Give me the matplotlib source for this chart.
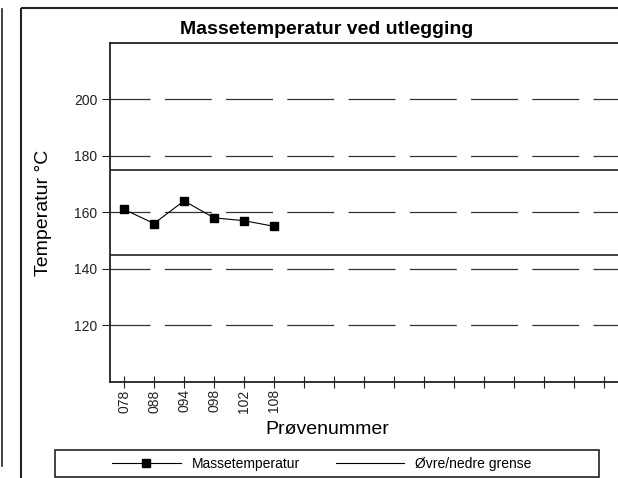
import matplotlib
matplotlib.use('Agg')
import matplotlib.pyplot as plt
from matplotlib.lines import Line2D
from matplotlib.patches import Rectangle

plt.rcParams['font.family'] = ['Liberation Sans', 'DejaVu Sans']
plt.rcParams['lines.scale_dashes'] = False

W, H = 618, 478

# data
samples = ['078', '088', '094', '098', '102', '108']
n_slots = 17
temps = [161, 156, 164, 158, 157, 155]
upper_limit = 175
lower_limit = 145
yticks = [120, 140, 160, 180, 200]


def fx(x):
    return x / W


def fy(y):
    return 1 - y / H


fig = plt.figure(figsize=(W / 100, H / 100), dpi=100)

# outer frame lines
fig.add_artist(Line2D([fx(2), fx(2)], [fy(9), fy(466)], color='#222222', lw=1.2))
fig.add_artist(Line2D([fx(21), fx(21)], [fy(8), fy(478)], color='#222222', lw=1.5,
                      solid_capstyle='butt'))
fig.add_artist(Line2D([fx(21), 1.0], [fy(8), fy(8)], color='#222222', lw=1.5,
                      solid_capstyle='butt'))

ax = fig.add_axes([fx(110), fy(381.7), fx(618) - fx(110), fy(42.7) - fy(381.7)])

x = list(range(len(samples)))
ax.plot(x, temps, color='black', lw=0.8, marker='s', markersize=6.3,
        label='Massetemperatur')
ax.axhline(upper_limit, color='#333333', lw=1.3, label='Øvre/nedre grense')
ax.axhline(lower_limit, color='#333333', lw=1.3)

ax.set_xlim(-0.467, 16.467)
ax.set_ylim(100, 220)
ax.set_yticks(yticks)
ax.set_xticks(range(n_slots))
ax.set_xticklabels(samples + [''] * (n_slots - len(samples)), rotation=90)

ax.grid(axis='y', color='#333333', lw=0.9, linestyle=(5.0, (33.8, 10.3)))
ax.set_axisbelow(True)

ax.tick_params(axis='y', direction='out', length=6, width=0.8, pad=3,
               labelsize=10, colors='#222222')
ax.tick_params(axis='x', direction='inout', length=9, width=0.8, pad=1,
               labelsize=10, colors='#222222')

ax.spines['right'].set_visible(False)
for s in ['left', 'bottom', 'top']:
    ax.spines[s].set_linewidth(1.3)
    ax.spines[s].set_color('#222222')

# titles / labels
fig.text(fx(327), fy(34), 'Massetemperatur ved utlegging', fontsize=14,
         fontweight='bold', ha='center', va='baseline')
fig.text(fx(327), fy(434), 'Prøvenummer', fontsize=14, ha='center', va='baseline')
fig.text(fx(48), fy(212.5), 'Temperatur °C', fontsize=14, rotation=90,
         rotation_mode='anchor', ha='center', va='baseline')

# legend
fig.add_artist(Rectangle((fx(55), fy(477)), fx(599) - fx(55), fy(450) - fy(477),
                         fill=False, edgecolor='#222222', lw=1.2))
handles = [
    Line2D([], [], color='black', lw=0.8, marker='s', markersize=6.3),
    Line2D([], [], color='black', lw=0.8),
]
fig.legend(handles, ['Massetemperatur', 'Øvre/nedre grense'], ncol=2,
           loc='center', bbox_to_anchor=(fx(322), fy(464)), frameon=False,
           fontsize=10, handlelength=4.9, handletextpad=0.8, columnspacing=2.6,
           borderpad=0, numpoints=1)

fig.savefig('out.png', dpi=100)
